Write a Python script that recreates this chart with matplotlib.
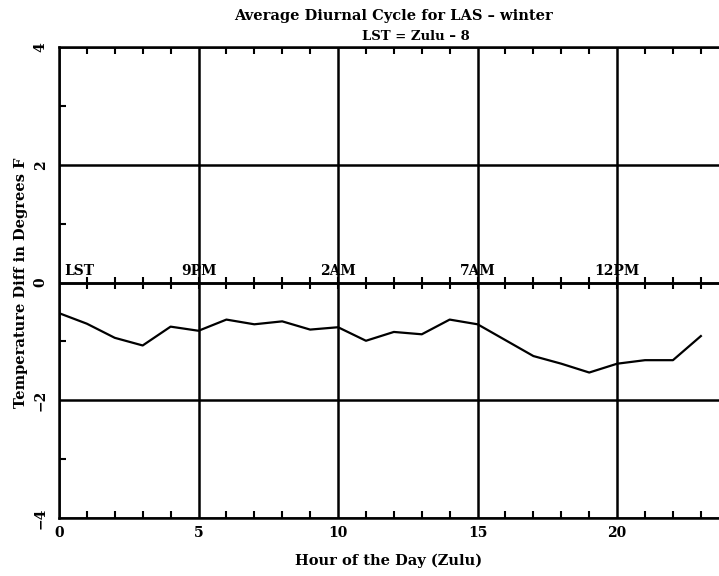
import numpy as np
import matplotlib
matplotlib.use('Agg')
import matplotlib.pyplot as plt
from matplotlib.ticker import MultipleLocator

# hourly mean temperature difference (deg F), hour 0..23 Zulu
hours = list(range(24))
temp_diff = [-0.52, -0.70, -0.94, -1.07, -0.75, -0.82, -0.63, -0.71, -0.66, -0.80,
             -0.76, -0.99, -0.84, -0.88, -0.63, -0.71, -0.98, -1.25, -1.38, -1.53,
             -1.38, -1.32, -1.32, -0.91]

# local time markers along the zero line
lst_hours = [0, 5, 10, 15, 20]
lst_labels = ['LST', '9PM', '2AM', '7AM', '12PM']

plt.rcParams['font.family'] = 'DejaVu Serif'
plt.rcParams['font.weight'] = 'bold'

fig = plt.figure(figsize=(7.19, 5.76), dpi=100)
ax = fig.add_axes([0.082, 0.101, 0.918, 0.817])

ax.plot(hours, temp_diff, color='black', lw=1.6)

ax.set_xlim(0, 23.65)
ax.set_ylim(-4, 4)
ax.xaxis.set_major_locator(MultipleLocator(5))
ax.xaxis.set_minor_locator(MultipleLocator(1))
ax.yaxis.set_major_locator(MultipleLocator(2))
ax.yaxis.set_minor_locator(MultipleLocator(1))
ax.grid(True, which='major', color='black', lw=1.8)

# zero line with crossing ticks
ax.axhline(0, color='black', lw=1.8)
ax.plot(hours, np.zeros(len(hours)), ls='', marker='|', ms=9, mew=1.5, color='black')

for h, lab in zip(lst_hours, lst_labels):
    ha = 'left' if h == 0 else 'center'
    ax.text(h + (0.2 if h == 0 else 0), 0.08, lab, ha=ha, va='bottom',
            fontsize=10, fontweight='bold')

ax.tick_params(which='both', direction='in', top=True, right=False,
               labelsize=10, width=1.5)
ax.tick_params(axis='x', which='major', length=0, pad=6)
ax.tick_params(axis='y', which='major', length=0, pad=8)
ax.tick_params(which='minor', length=5)
for lab in ax.get_yticklabels():
    lab.set_rotation(90)
    lab.set_va('center')
ax.spines['right'].set_visible(False)
for s in ['left', 'top', 'bottom']:
    ax.spines[s].set_linewidth(1.8)

ax.set_xlabel('Hour of the Day (Zulu)', fontsize=10.5, fontweight='bold', labelpad=10)
ax.set_ylabel('Temperature Diff in Degrees F', fontsize=10.5, fontweight='bold', labelpad=4)
fig.text(0.547, 0.972, 'Average Diurnal Cycle for LAS \u2013 winter', ha='center',
         va='center', fontsize=10.5, fontweight='bold')
fig.text(0.578, 0.937, 'LST = Zulu \u2013 8', ha='center', va='center',
         fontsize=9.5, fontweight='bold')

fig.savefig('out.png', dpi=100)
